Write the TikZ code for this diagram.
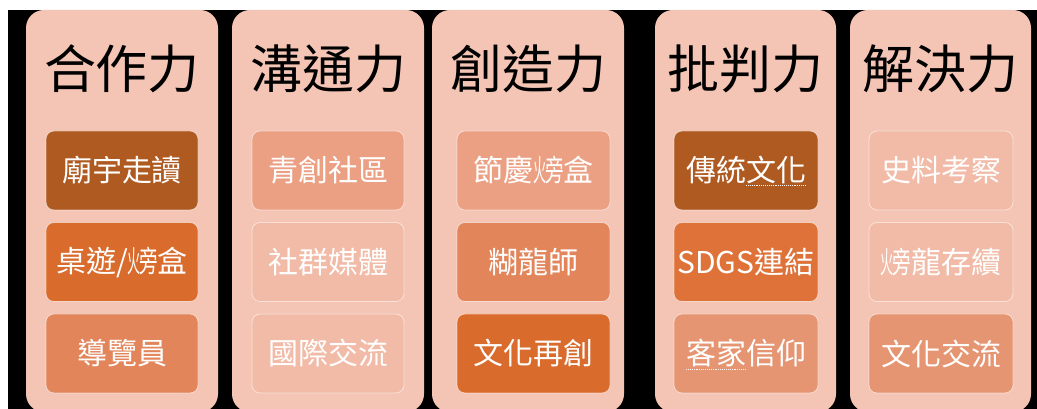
\documentclass[tikz,border=0pt]{standalone}
\usepackage{graphicx}
\usepackage{fontspec}
\setmainfont{Noto Sans CJK TC}

\definecolor{colbg}{HTML}{F4C4B4}
\definecolor{tonedark}{HTML}{AE5A21}
\definecolor{toneorange}{HTML}{D96B2C}
\definecolor{tonebright}{HTML}{DE7238}
\definecolor{tonemid}{HTML}{E2855A}
\definecolor{tonewarm}{HTML}{E69572}
\definecolor{tonelight}{HTML}{EBA083}
\definecolor{tonefaint}{HTML}{F1BBA7}

% fire radical + 旁, set as one character
\newcommand{\pangchar}{\makebox[1em][c]{\scalebox{0.44}[1]{火}\kern-0.03em\scalebox{0.62}[1]{旁}}}

\tikzstyle{column} = [rectangle, rounded corners=18pt, fill=colbg, minimum width=192pt, minimum height=402pt, inner sep=0pt]
\tikzstyle{title} = [font=\fontsize{52}{52}\selectfont, text=black]
\tikzstyle{item} = [rectangle, rounded corners=8pt, minimum height=79pt, minimum width=152pt, inner sep=0pt, draw=white, draw opacity=0.55, line width=0.8pt, text=white, font=\fontsize{30}{30}\selectfont]
\tikzstyle{dotline} = [densely dotted, white!85!colbg, line width=0.9pt]

\begin{document}
\begin{tikzpicture}[x=1pt, y=1pt, node distance=91.5pt]
\clip (0,0) rectangle (1037,409);
\fill[black] (8,0) rectangle (1037,399);

% columns
\node (col1) [column] at (122,198) {};
\node (col2) [column] at (328,198) {};
\node (col3) [column] at (528,198) {};
\node (col4) [column, minimum width=181pt] at (745.5,198) {};
\node (col5) [column, minimum width=181pt] at (940.5,198) {};

% titles
\node (ti1) [title] at (122,340) {合作力};
\node (ti2) [title] at (328,340) {溝通力};
\node (ti3) [title] at (528,340) {創造力};
\node (ti4) [title] at (745.5,340) {批判力};
\node (ti5) [title] at (940.5,340) {解決力};

% boxes
\node (b11) [item, fill=tonedark] at (122,238.5) {廟宇走讀};
\node (b12) [item, fill=toneorange, below of=b11] {桌遊/\pangchar 盒};
\node (b13) [item, fill=tonemid, below of=b12] {導覽員};

\node (b21) [item, fill=tonelight] at (328,238.5) {青創社區};
\node (b22) [item, fill=tonefaint, below of=b21] {社群媒體};
\node (b23) [item, fill=tonefaint, below of=b22] {國際交流};

\node (b31) [item, fill=tonelight, minimum width=153pt] at (533.5,238.5) {節慶\pangchar 盒};
\node (b32) [item, fill=tonemid, minimum width=153pt, below of=b31] {糊龍師};
\node (b33) [item, fill=toneorange, minimum width=153pt, below of=b32] {文化再創};

\node (b41) [item, fill=tonedark, minimum width=144pt] at (746,238.5) {傳統文化};
\node (b42) [item, fill=tonebright, minimum width=144pt, below of=b41] {SDGS連結};
\node (b43) [item, fill=tonewarm, minimum width=144pt, below of=b42] {客家信仰};

\node (b51) [item, fill=tonefaint, minimum width=144pt] at (941,238.5) {史料考察};
\node (b52) [item, fill=tonefaint, minimum width=144pt, below of=b51] {\pangchar 龍存續};
\node (b53) [item, fill=tonewarm, minimum width=144pt, below of=b52] {文化交流};

\draw [dotline] ([yshift=-4pt]b41.base) -- ([xshift=60pt,yshift=-4pt]b41.base);
\draw [dotline] ([xshift=-60pt,yshift=-4pt]b43.base) -- ([yshift=-4pt]b43.base);
\end{tikzpicture}
\end{document}
